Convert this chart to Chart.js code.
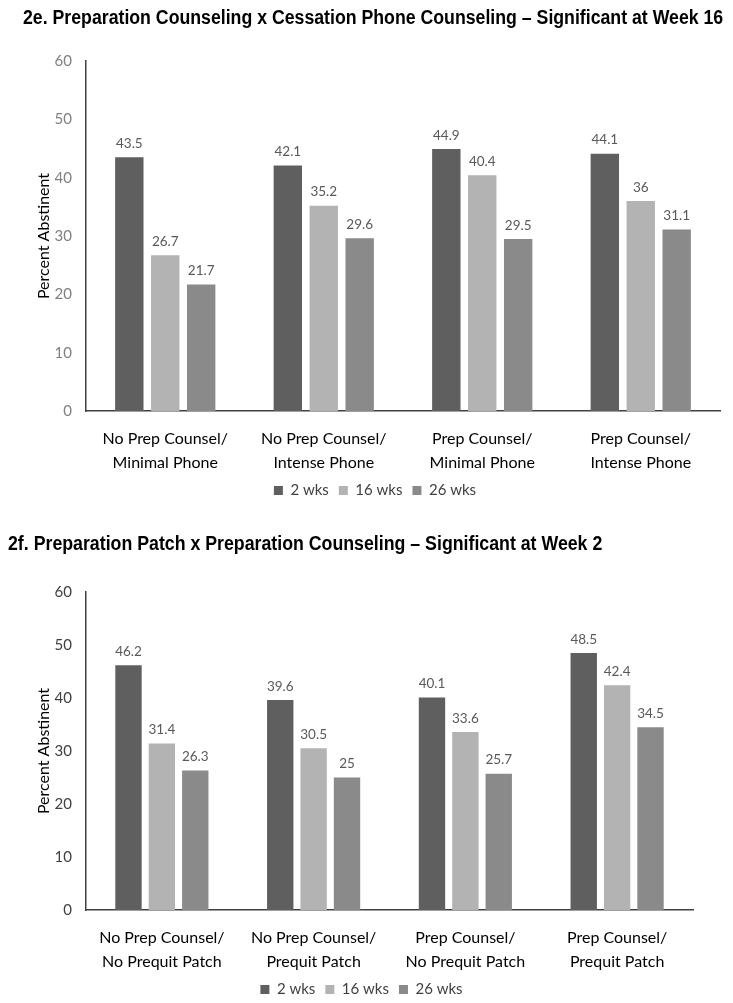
<!DOCTYPE html>
<html>
<head>
<meta charset="utf-8">
<script src="https://cdn.jsdelivr.net/npm/chart.js@4.4.1/dist/chart.umd.min.js"></script>
<style>
    body { margin: 0; background: #fff; overflow: hidden; }
    .box { position: relative; width: 733px; }
    .title {
        position: absolute;
        font-family: 'Liberation Sans Narrow', 'Liberation Sans', Arial, sans-serif;
        font-weight: bold;
        font-size: 19.5px;
        line-height: 1;
        white-space: nowrap;
        color: #000;
        transform-origin: left top;
    }
</style>
</head>
<body>
<div class="box" style="height:508px">
    <div class="title" style="left:23px; top:8px; transform:scaleX(0.908)">2e. Preparation Counseling x Cessation Phone Counseling &ndash; Significant at Week 16</div>
    <canvas id="phone"></canvas>
</div>
<div class="box" style="height:499px">
    <div class="title" style="left:8px; top:26px; transform:scaleX(0.91)">2f. Preparation Patch x Preparation Counseling &ndash; Significant at Week 2</div>
    <canvas id="patch"></canvas>
</div>
<script>
var seriesNames = ['2 wks', '16 wks', '26 wks'];
var seriesColors = ['#5f5f5f', '#b3b3b3', '#8a8a8a'];

var phoneGroups = [
    ['No Prep Counsel/', 'Minimal Phone'],
    ['No Prep Counsel/', 'Intense Phone'],
    ['Prep Counsel/', 'Minimal Phone'],
    ['Prep Counsel/', 'Intense Phone']
];
var phoneWeek2 = [43.5, 42.1, 44.9, 44.1];
var phoneWeek16 = [26.7, 35.2, 40.4, 36];
var phoneWeek26 = [21.7, 29.6, 29.5, 31.1];

var patchGroups = [
    ['No Prep Counsel/', 'No Prequit Patch'],
    ['No Prep Counsel/', 'Prequit Patch'],
    ['Prep Counsel/', 'No Prequit Patch'],
    ['Prep Counsel/', 'Prequit Patch']
];
var patchWeek2 = [46.2, 39.6, 40.1, 48.5];
var patchWeek16 = [31.4, 30.5, 33.6, 42.4];
var patchWeek26 = [26.3, 25, 25.7, 34.5];

var yMin = 0, yMax = 60, yStep = 10;

// draws the number above each bar
var valueLabels = {
    id: 'valueLabels',
    afterDatasetsDraw: function (chart) {
        var ctx = chart.ctx;
        ctx.save();
        ctx.font = '13.5px Lato';
        ctx.fillStyle = '#595959';
        ctx.textAlign = 'center';
        ctx.textBaseline = 'bottom';
        chart.data.datasets.forEach(function (ds, i) {
            chart.getDatasetMeta(i).data.forEach(function (bar, j) {
                ctx.fillText(ds.data[j], bar.x, bar.y - 7);
            });
        });
        ctx.restore();
    }
};

function makeChart(id, groups, series, opt) {
    return new Chart(document.getElementById(id), {
        type: 'bar',
        data: {
            labels: groups,
            datasets: series.map(function (values, i) {
                return {
                    label: seriesNames[i],
                    data: values,
                    backgroundColor: seriesColors[i],
                    categoryPercentage: opt.catPct,
                    barPercentage: 0.79
                };
            })
        },
        options: {
            responsive: true,
            maintainAspectRatio: false,
            animation: false,
            layout: {
                padding: { left: 30, right: opt.right, top: opt.top, bottom: 0 }
            },
            plugins: {
                legend: {
                    position: 'bottom',
                    labels: {
                        boxWidth: 9,
                        boxHeight: 9,
                        color: '#404040',
                        font: { family: 'Lato', size: 15 },
                        padding: 10
                    }
                },
                tooltip: { enabled: false }
            },
            scales: {
                x: {
                    grid: { display: false, drawTicks: false },
                    border: { color: '#404040', width: 1.5 },
                    ticks: { color: '#000', font: { family: 'Lato', size: 16, lineHeight: 1.55 }, padding: 15 },
                    afterFit: function (axis) { axis.height = 62; }
                },
                y: {
                    min: yMin,
                    max: yMax,
                    grid: { display: false, drawTicks: false },
                    border: { color: '#404040', width: 1.5 },
                    ticks: { stepSize: yStep, color: opt.tickColor, font: { family: 'Lato', size: 15 }, padding: 14 },
                    title: { display: true, text: 'Percent Abstinent', color: '#000', font: { family: 'Lato', size: 16 } },
                    afterFit: function (axis) { axis.width = 56; }
                }
            }
        },
        plugins: [valueLabels]
    });
}

makeChart('phone', phoneGroups, [phoneWeek2, phoneWeek16, phoneWeek26],
    { right: 13, top: 61, catPct: 0.68, tickColor: '#808080' });

makeChart('patch', patchGroups, [patchWeek2, patchWeek16, patchWeek26],
    { right: 40, top: 84, catPct: 0.66, tickColor: '#404040' });
</script>
</body>
</html>
